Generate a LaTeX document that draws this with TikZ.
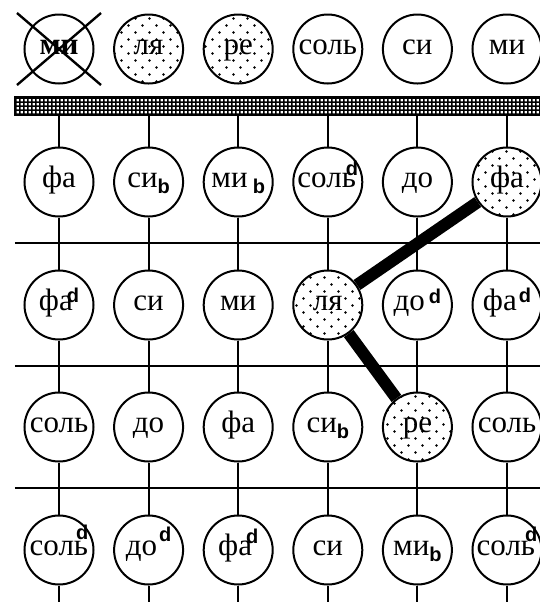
\documentclass[tikz,border=0pt]{standalone}
\usepackage{fontspec}
\setmainfont{Liberation Serif}
\setsansfont{Liberation Sans}
\usetikzlibrary{patterns}

% sparse dots for the sounding notes, fine mesh for the nut
\pgfdeclarepatternformonly{notedots}{\pgfpointorigin}{\pgfqpoint{7pt}{7pt}}{\pgfqpoint{7pt}{7pt}}{
  \pgfpathcircle{\pgfqpoint{1.75pt}{1.75pt}}{0.65pt}
  \pgfpathcircle{\pgfqpoint{5.25pt}{5.25pt}}{0.65pt}
  \pgfusepath{fill}}
\pgfdeclarepatternformonly{nutmesh}{\pgfpointorigin}{\pgfqpoint{2pt}{2pt}}{\pgfqpoint{2pt}{2pt}}{
  \pgfpathrectangle{\pgfpointorigin}{\pgfqpoint{2pt}{0.8pt}}
  \pgfpathrectangle{\pgfpointorigin}{\pgfqpoint{0.8pt}{2pt}}
  \pgfusepath{fill}}

\newcommand{\accfont}{\fontsize{10}{10}\selectfont\sffamily\bfseries}
% #1 = kern before, #2 = raise
\newcommand{\shp}[2]{\kern#1\raisebox{#2}{\accfont d}}
\newcommand{\flt}[2]{\kern#1\raisebox{#2}{\accfont b}}

\tikzset{
  note/.style={circle, draw, line width=1pt, minimum size=34.5pt, inner sep=0pt,
    text height=7pt, text depth=2pt, font=\fontsize{15.5}{17}\selectfont},
  sounding/.style={note, pattern=notedots},
  string/.style={line width=1pt},
  fret/.style={line width=1.3pt},
  barre/.style={line width=6pt},
  nutbar/.style={draw, line width=1pt, pattern=nutmesh},
  cross/.style={line width=1.2pt}
}

\begin{document}
\begin{tikzpicture}[x=0.5pt, y=-0.5pt]
  \useasboundingbox (0,0) rectangle (540,602);
  % nut and frets
  \path[nutbar] (15,97) rectangle (540,115);
  \coordinate (nut) at (0,115);
  \coordinate (end) at (0,602);
  \foreach \y in {243,366,488}
    \draw[fret] (15,\y) -- (540,\y);
  % open strings
  \foreach \lbl/\sty [count=\i] in {\textbf{ми}/note, ля/sounding, ре/sounding,
      соль/note, си/note, ми/note}
    \node[\sty] (a\i) at ({59+89.6*(\i-1)},49) {\lbl};
  \draw[cross] (a1.center) +(-42,-36) -- +(42,36);
  \draw[cross] (a1.center) +(42,-36) -- +(-42,36);
  % first fret
  \foreach \lbl/\sty [count=\i] in {фа/note, си\flt{0pt}{-3pt}/note,
      ми\,\flt{0pt}{-3pt}/note, соль\shp{-5pt}{6pt}/note, до/note, фа/sounding}
    \node[\sty] (b\i) at ({59+89.6*(\i-1)},182) {\lbl};
  % second fret
  \foreach \lbl/\sty [count=\i] in {фа\shp{-3pt}{4pt}/note, си/note, ми/note,
      ля/sounding, до\shp{2pt}{3.5pt}/note, фа\shp{1pt}{4pt}/note}
    \node[\sty] (c\i) at ({59+89.6*(\i-1)},305) {\lbl};
  % third fret
  \foreach \lbl/\sty [count=\i] in {соль/note, до/note, фа/note,
      си\flt{0pt}{-3pt}/note, ре/sounding, соль/note}
    \node[\sty] (d\i) at ({59+89.6*(\i-1)},427) {\lbl};
  % fourth fret
  \foreach \lbl/\sty [count=\i] in {соль\shp{-6pt}{8pt}/note, до\shp{1pt}{7pt}/note,
      фа\shp{-3pt}{6pt}/note, си/note, ми\flt{0pt}{-3pt}/note, соль\shp{-5pt}{7pt}/note}
    \node[\sty] (e\i) at ({59+89.6*(\i-1)},550) {\lbl};
  % strings
  \foreach \i in {1,...,6} {
    \draw[string] (nut -| b\i) -- (b\i);
    \draw[string] (b\i) -- (c\i);
    \draw[string] (c\i) -- (d\i);
    \draw[string] (d\i) -- (e\i);
    \draw[string] (e\i) -- (end -| e\i);
  }
  % chord shape
  \draw[barre] (b6) -- (c4);
  \draw[barre] (c4) -- (d5);
\end{tikzpicture}
\end{document}
